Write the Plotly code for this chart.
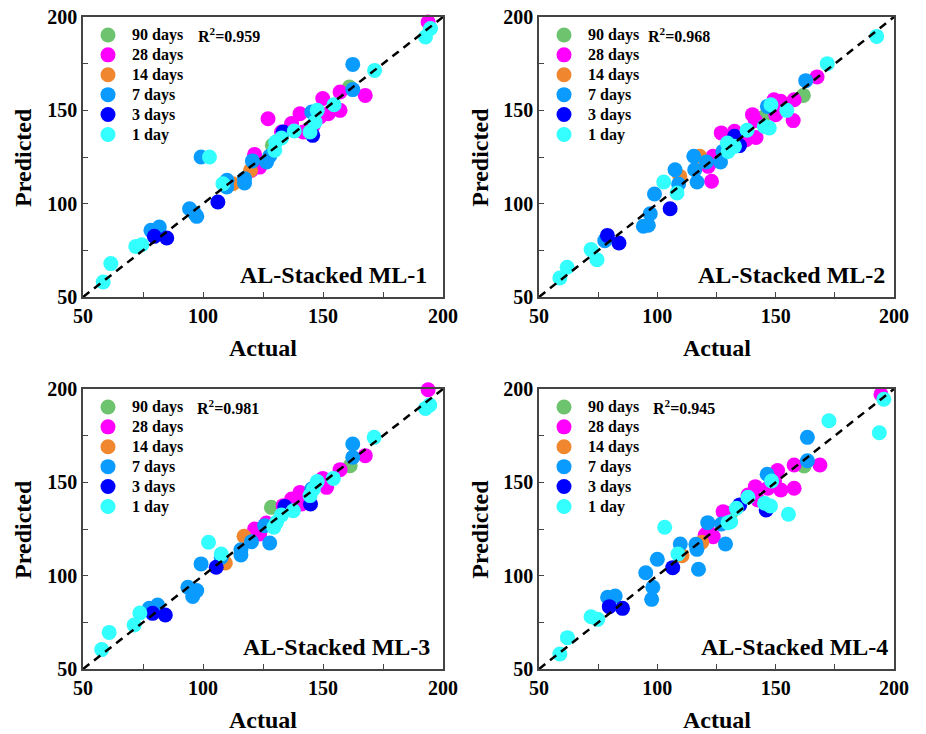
import plotly.graph_objects as go

# ---------------- data (Actual, Predicted) ----------------
GROUPS = ["90 days", "28 days", "14 days", "7 days", "3 days", "1 day"]
COLORS = ["#6EC46E", "#FF00FF", "#F0862E", "#0A9BFF", "#0000FF", "#33FFFF"]
PANEL_LABELS = ["AL-Stacked ML-1", "AL-Stacked ML-2", "AL-Stacked ML-3", "AL-Stacked ML-4"]
R2_VALUES = ["0.959", "0.968", "0.981", "0.945"]
TICK_VALUES = [50, 100, 150, 200]

# Panel 1
ML1_90_X = [161.0, 128.9]
ML1_90_Y = [162.5, 131.3]
ML1_28_X = [193.8, 127.1, 121.5, 123.6, 120.2, 132.7, 136.9, 140.4, 141.8, 146.0, 148.7, 149.9, 152.2, 157.1, 157.1, 167.6]
ML1_28_Y = [197.3, 145.5, 126.4, 119.6, 117.9, 138.4, 142.9, 148.2, 138.4, 142.0, 146.4, 156.3, 148.2, 150.0, 159.8, 158.0]
ML1_14_X = [119.8, 112.4]
ML1_14_Y = [117.9, 110.7]
ML1_7_X = [162.4, 162.4, 145.3, 99.2, 120.6, 126.5, 127.8, 117.3, 117.3, 110.0, 109.9, 94.4, 96.4, 97.4, 78.3, 81.8]
ML1_7_Y = [174.6, 161.1, 149.1, 125.0, 122.9, 122.3, 125.5, 113.4, 111.1, 112.5, 108.9, 97.3, 95.0, 93.2, 85.7, 87.5]
ML1_3_X = [106.2, 79.7, 84.9, 145.7, 133.4]
ML1_3_Y = [100.9, 82.5, 81.6, 136.6, 138.4]
ML1_1_X = [58.4, 61.6, 72.0, 74.5, 108.3, 102.7, 129.9, 130.3, 132.7, 138.0, 144.6, 146.7, 147.6, 154.6, 171.5, 192.7, 194.8]
ML1_1_Y = [58.0, 67.9, 77.1, 78.0, 110.7, 125.0, 128.6, 133.0, 135.2, 138.9, 138.4, 143.8, 150.0, 153.0, 171.4, 189.3, 193.8]

# Panel 2
ML2_90_X = [161.7, 144.8]
ML2_90_Y = [158.0, 146.3]
ML2_28_X = [127.0, 132.6, 137.5, 141.7, 140.2, 141.4, 149.3, 152.1, 150.0, 157.8, 157.4, 167.5, 122.9, 121.5, 123.5]
ML2_28_Y = [137.9, 138.8, 134.3, 135.5, 147.7, 144.5, 155.7, 154.8, 147.7, 155.7, 144.5, 167.9, 112.0, 120.0, 125.4]
ML2_14_X = [117.9, 109.5]
ML2_14_Y = [125.4, 114.6]
ML2_7_X = [162.7, 146.5, 107.5, 109.0, 115.4, 115.8, 116.8, 120.7, 126.7, 127.7, 98.8, 97.0, 94.1, 96.2, 77.8]
ML2_7_Y = [165.9, 152.1, 118.2, 110.5, 125.4, 118.2, 111.6, 122.3, 122.3, 128.0, 105.2, 94.6, 87.9, 88.4, 80.2]
ML2_3_X = [78.9, 83.8, 105.4, 132.6, 134.7]
ML2_3_Y = [83.0, 78.9, 97.3, 136.1, 131.1]
ML2_1_X = [58.8, 61.9, 72.0, 74.5, 102.7, 108.3, 129.6, 129.9, 132.6, 137.9, 145.2, 147.3, 148.0, 154.7, 171.8, 192.7]
ML2_1_Y = [60.2, 65.9, 75.4, 70.0, 111.6, 105.7, 132.5, 128.0, 130.7, 139.3, 141.4, 140.5, 153.0, 150.0, 175.0, 189.6]

# Panel 3
ML3_90_X = [161.3, 128.5]
ML3_90_Y = [158.9, 136.6]
ML3_28_X = [193.8, 167.6, 157.1, 149.9, 151.5, 140.4, 136.9, 133.4, 141.1, 121.5, 123.6, 126.4]
ML3_28_Y = [199.6, 164.3, 156.8, 152.1, 147.3, 144.6, 141.1, 137.5, 138.4, 125.0, 122.3, 128.2]
ML3_14_X = [117.1, 109.3]
ML3_14_Y = [121.1, 106.8]
ML3_7_X = [162.4, 162.4, 145.3, 127.8, 120.2, 115.8, 115.8, 125.7, 99.2, 107.6, 93.7, 97.4, 95.7, 77.6, 81.1]
ML3_7_Y = [170.5, 163.4, 146.4, 117.5, 118.2, 113.9, 111.1, 126.8, 106.3, 109.8, 93.8, 92.0, 88.9, 82.5, 84.3]
ML3_3_X = [105.5, 79.0, 84.3, 144.8, 134.1]
ML3_3_Y = [104.5, 79.8, 78.9, 138.4, 137.1]
ML3_1_X = [57.8, 60.9, 71.3, 73.7, 102.3, 107.6, 129.5, 130.6, 132.7, 137.6, 144.6, 146.0, 147.6, 154.3, 171.3, 192.7, 194.5]
ML3_1_Y = [60.4, 69.6, 73.6, 80.0, 117.9, 111.6, 125.9, 128.6, 132.5, 134.8, 142.9, 146.4, 150.4, 152.1, 174.1, 189.6, 191.4]

# Panel 4
ML4_90_X = [162.0, 131.0]
ML4_90_Y = [158.8, 133.4]
ML4_28_X = [194.5, 168.7, 157.8, 157.8, 150.8, 152.2, 149.5, 146.7, 141.4, 142.5, 138.3, 127.8, 121.5, 123.6, 120.2]
ML4_28_Y = [197.1, 159.3, 159.3, 146.8, 156.3, 145.9, 150.4, 146.8, 147.7, 140.5, 143.2, 134.3, 123.6, 120.9, 121.8]
ML4_14_X = [118.8, 110.4]
ML4_14_Y = [117.9, 110.7]
ML4_7_X = [163.4, 163.4, 146.4, 121.3, 127.1, 128.8, 116.3, 116.7, 109.7, 117.4, 100.0, 95.1, 98.1, 97.6, 79.0, 82.2]
ML4_7_Y = [174.1, 161.6, 154.3, 128.4, 127.7, 117.0, 116.8, 114.1, 117.0, 103.4, 108.8, 101.6, 93.8, 87.3, 88.4, 89.1]
ML4_3_X = [106.5, 79.7, 85.3, 134.8, 146.0]
ML4_3_Y = [104.3, 83.4, 82.5, 137.9, 135.2]
ML4_1_X = [58.8, 62.0, 72.0, 74.8, 103.1, 108.7, 129.9, 131.0, 133.4, 138.3, 145.3, 147.8, 148.3, 155.4, 172.5, 193.8, 195.7]
ML4_1_Y = [58.0, 66.8, 78.0, 76.6, 125.9, 111.6, 128.4, 128.9, 136.1, 142.0, 138.8, 137.3, 150.7, 132.9, 183.0, 176.6, 194.5]

PANELS = [
    [(ML1_90_X, ML1_90_Y), (ML1_28_X, ML1_28_Y), (ML1_14_X, ML1_14_Y), (ML1_7_X, ML1_7_Y), (ML1_3_X, ML1_3_Y), (ML1_1_X, ML1_1_Y)],
    [(ML2_90_X, ML2_90_Y), (ML2_28_X, ML2_28_Y), (ML2_14_X, ML2_14_Y), (ML2_7_X, ML2_7_Y), (ML2_3_X, ML2_3_Y), (ML2_1_X, ML2_1_Y)],
    [(ML3_90_X, ML3_90_Y), (ML3_28_X, ML3_28_Y), (ML3_14_X, ML3_14_Y), (ML3_7_X, ML3_7_Y), (ML3_3_X, ML3_3_Y), (ML3_1_X, ML3_1_Y)],
    [(ML4_90_X, ML4_90_Y), (ML4_28_X, ML4_28_Y), (ML4_14_X, ML4_14_Y), (ML4_7_X, ML4_7_Y), (ML4_3_X, ML4_3_Y), (ML4_1_X, ML4_1_Y)],
]
AXIS_MIN, AXIS_MAX = 50, 200

# ---------------- layout geometry ----------------
# page body has an 8px margin; figure fills the rest of the window
OFF = 8
W, H = 926 - OFF, 734 - OFF
FONT = "Liberation Serif"


def xd(a, b):
    return ((a - OFF) / W, (b - OFF) / W)


def yd(top, bottom):
    return (1 - (bottom - OFF) / H, 1 - (top - OFF) / H)


X_DOMAINS = [xd(83, 443), xd(539, 894), xd(83, 443), xd(539, 894)]
Y_DOMAINS = [yd(17, 297), yd(17, 297), yd(389, 669), yd(389, 669)]
LABEL_X = [0.96, 0.98, 0.97, 0.99]
R2_X = [0.315, 0.30, 0.31, 0.315]

fig = go.Figure()

for p, series in enumerate(PANELS):
    n = "" if p == 0 else str(p + 1)
    xa, ya = "x" + n, "y" + n
    leg = "legend" + n
    for g, (xs, ys) in enumerate(series):
        fig.add_trace(go.Scatter(
            x=xs, y=ys, mode="markers", xaxis=xa, yaxis=ya,
            name="<span style='font-size:16px'>" + GROUPS[g] + "</span>",
            legend=leg, cliponaxis=False,
            marker=dict(size=15, color=COLORS[g], line=dict(width=0)),
        ))
    fig.add_trace(go.Scatter(
        x=[AXIS_MIN, AXIS_MAX], y=[AXIS_MIN, AXIS_MAX], mode="lines",
        xaxis=xa, yaxis=ya, showlegend=False, cliponaxis=False,
        line=dict(color="black", width=2.5, dash="8px,6px"),
    ))

axis_common = dict(
    range=[AXIS_MIN, AXIS_MAX], tickvals=TICK_VALUES, showgrid=False, zeroline=False,
    automargin=False, ticklabeloverflow="allow",
    showline=True, linecolor="#444444", linewidth=1.5, mirror=True,
    ticks="inside", ticklen=5, tickwidth=1, tickcolor="#444444",
    minor=dict(dtick=25, ticks="inside", ticklen=5, tickcolor="#444444", showgrid=False),
    tickfont=dict(family=FONT, size=20, color="black", weight="bold"),
)

layout = dict(
    template="none",
    width=W, height=H, margin=dict(l=0, r=0, t=0, b=0, pad=0, autoexpand=False),
    paper_bgcolor="white", plot_bgcolor="white",
    font=dict(family=FONT, color="black"),
)
annotations = []
for p in range(4):
    n = "" if p == 0 else str(p + 1)
    layout["xaxis" + n] = dict(axis_common, domain=list(X_DOMAINS[p]), anchor="y" + n)
    layout["yaxis" + n] = dict(axis_common, domain=list(Y_DOMAINS[p]), anchor="x" + n)
    x0 = X_DOMAINS[p][0]
    ytop = Y_DOMAINS[p][1]
    layout["legend" + n] = dict(
        x=x0 + 1 / W, y=ytop - 3 / H, xanchor="left", yanchor="top",
        bgcolor="rgba(0,0,0,0)", borderwidth=0, itemwidth=38,
        font=dict(family=FONT, size=13, color="black", weight="bold"),
        tracegroupgap=0,
    )
    annotations += [
        dict(text="R<sup>2</sup>=" + R2_VALUES[p], xref="x" + n + " domain", yref="y" + n + " domain",
             x=R2_X[p], y=0.936, xanchor="left", yanchor="middle", showarrow=False,
             font=dict(family=FONT, size=16, color="black", weight="bold")),
        dict(text=PANEL_LABELS[p], xref="x" + n + " domain", yref="y" + n + " domain",
             x=LABEL_X[p], y=0.08, xanchor="right", yanchor="middle", showarrow=False,
             font=dict(family=FONT, size=24, color="black", weight="bold")),
        dict(text="Actual", xref="x" + n + " domain", yref="y" + n + " domain",
             x=0.5, y=-0.182, xanchor="center", yanchor="middle", showarrow=False,
             font=dict(family=FONT, size=24, color="black", weight="bold")),
        dict(text="Predicted", xref="x" + n + " domain", yref="y" + n + " domain",
             x=-0.167, y=0.5, xanchor="center", yanchor="middle", textangle=-90, showarrow=False,
             font=dict(family=FONT, size=24, color="black", weight="bold")),
    ]
layout["annotations"] = annotations
fig.update_layout(**layout)

fig.write_html("out.html")
